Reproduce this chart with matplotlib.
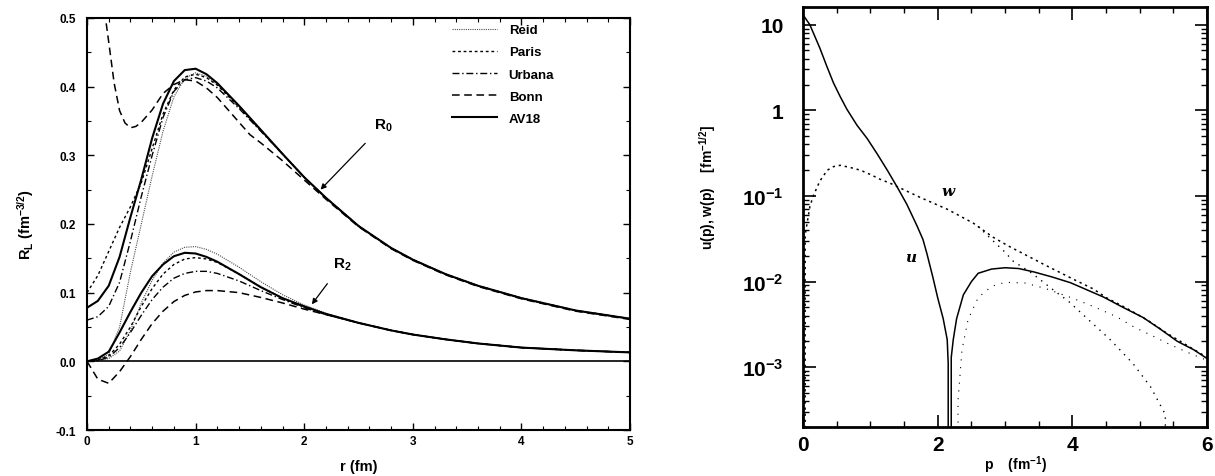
import numpy as np
import matplotlib
matplotlib.use('Agg')
import matplotlib.pyplot as plt
from matplotlib.ticker import MultipleLocator, FixedLocator, FixedFormatter, LogLocator, NullFormatter

plt.rcParams['font.family'] = ['Liberation Sans', 'DejaVu Sans']
plt.rcParams['font.weight'] = 'bold'
plt.rcParams['mathtext.fontset'] = 'custom'
plt.rcParams['mathtext.rm'] = 'Liberation Sans:bold'
plt.rcParams['mathtext.it'] = 'Liberation Sans:italic:bold'
plt.rcParams['mathtext.default'] = 'rm'

# ---- left panel: R_0 and R_2 vs r (fm) ----
r = [0, 0.1, 0.2, 0.3, 0.4, 0.5, 0.6, 0.7, 0.8, 0.9, 1.0, 1.1, 1.2, 1.4, 1.6,
     1.8, 2.0, 2.2, 2.5, 2.8, 3.0, 3.3, 3.6, 4.0, 4.5, 5.0]
tail0 = [0.302, 0.268, 0.238, 0.197, 0.165, 0.148, 0.127, 0.110, 0.092, 0.074, 0.062]
R0_av18 = [0.078, 0.088, 0.110, 0.152, 0.210, 0.265, 0.325, 0.375, 0.408, 0.424, 0.426,
           0.418, 0.405, 0.372, 0.337] + tail0
R0_reid = [0.0, 0.002, 0.010, 0.050, 0.130, 0.200, 0.270, 0.335, 0.385, 0.412, 0.420,
           0.415, 0.403, 0.372, 0.338] + tail0
R0_paris = [0.100, 0.125, 0.160, 0.195, 0.225, 0.260, 0.310, 0.360, 0.395, 0.414, 0.418,
            0.413, 0.402, 0.370, 0.336] + tail0
R0_urbana = [0.060, 0.065, 0.080, 0.115, 0.175, 0.240, 0.300, 0.355, 0.393, 0.410, 0.413,
             0.408, 0.398, 0.368, 0.335] + tail0
r_bonn = [0.15, 0.17, 0.2, 0.25, 0.3, 0.35, 0.4, 0.45, 0.5, 0.6, 0.7, 0.8, 0.9, 1.0, 1.1,
          1.2, 1.3, 1.4, 1.5, 1.6, 1.8, 2.0, 2.2, 2.5, 2.8, 3.0, 3.3, 3.6, 4.0, 4.5, 5.0]
R0_bonn = [0.54, 0.50, 0.465, 0.405, 0.365, 0.347, 0.340, 0.342, 0.348, 0.366, 0.390,
           0.403, 0.410, 0.408, 0.398, 0.384, 0.366, 0.348, 0.330, 0.318, 0.292, 0.264,
           0.236, 0.196, 0.164, 0.147, 0.126, 0.109, 0.091, 0.073, 0.061]

tail2 = [0.056, 0.045, 0.039, 0.032, 0.026, 0.020, 0.016, 0.013]
R2_av18 = [0, 0.004, 0.014, 0.042, 0.072, 0.100, 0.124, 0.141, 0.153, 0.158, 0.157,
           0.152, 0.145, 0.127, 0.108, 0.092, 0.080, 0.069] + tail2
R2_reid = [0, 0.001, 0.004, 0.015, 0.045, 0.085, 0.118, 0.143, 0.159, 0.166, 0.167,
           0.163, 0.156, 0.137, 0.116, 0.097, 0.082, 0.070] + tail2
R2_paris = [0, 0.002, 0.008, 0.025, 0.050, 0.080, 0.106, 0.127, 0.141, 0.149, 0.151,
            0.149, 0.144, 0.127, 0.108, 0.092, 0.079, 0.069] + tail2
R2_urbana = [0, 0.001, 0.006, 0.020, 0.042, 0.067, 0.090, 0.108, 0.121, 0.128, 0.131,
             0.131, 0.128, 0.117, 0.103, 0.090, 0.078, 0.068] + tail2
R2_bonn = [0, -0.026, -0.032, -0.015, 0.007, 0.032, 0.055, 0.073, 0.087, 0.096, 0.101,
           0.103, 0.103, 0.100, 0.093, 0.085, 0.076, 0.068] + tail2

# ---- right panel: u(p), w(p) ----
p_u = [0, 0.1, 0.25, 0.35, 0.45, 0.55, 0.65, 0.8, 0.95, 1.1, 1.25, 1.4, 1.54, 1.69, 1.78,
       1.84, 1.93, 2.0, 2.08, 2.14, 2.155, 2.16, 2.2, 2.23, 2.28, 2.38, 2.5, 2.6, 2.8,
       3.0, 3.2, 3.42, 3.7, 3.97, 4.2, 4.46, 4.75, 5.05, 5.3, 5.56, 5.8, 6.0]
u_p = [13, 10, 5.3, 3.3, 2.1, 1.45, 1.03, 0.67, 0.47, 0.31, 0.20, 0.126, 0.08, 0.045,
       0.031, 0.021, 0.011, 6.4e-3, 3.7e-3, 2.1e-3, 1.1e-3, 0.0, 1.3e-3, 2.1e-3, 3.7e-3,
       7e-3, 1.0e-2, 1.25e-2, 1.4e-2, 1.45e-2, 1.42e-2, 1.3e-2, 1.13e-2, 9.7e-3, 8.1e-3,
       6.6e-3, 5e-3, 3.8e-3, 2.8e-3, 2.0e-3, 1.6e-3, 1.26e-3]
p_w = [0, 0.03, 0.1, 0.15, 0.25, 0.36, 0.45, 0.55, 0.7, 0.85, 1.0, 1.14, 1.3, 1.44, 1.74,
       2.14, 2.53, 2.82, 3.05, 3.33, 3.6, 3.82, 4.05, 4.31, 4.5, 4.8, 5.1, 5.4, 5.7, 6.0]
w_p = [0.0, 0.035, 0.075, 0.10, 0.15, 0.20, 0.22, 0.228, 0.215, 0.20, 0.178, 0.157, 0.14,
       0.124, 0.096, 0.07, 0.048, 0.033, 0.026, 0.02, 0.0155, 0.0127, 0.0103, 8.2e-3,
       6.5e-3, 4.9e-3, 3.6e-3, 2.5e-3, 1.8e-3, 1.3e-3]
p_w2 = [2.6, 2.8, 3.0, 3.12, 3.4, 3.67, 3.95, 4.22, 4.56, 4.9, 5.16, 5.38, 5.45]
w2_p = [0.044, 0.031, 0.022, 0.0173, 0.0125, 8.5e-3, 5.8e-3, 3.7e-3, 2.1e-3, 1.1e-3,
        5.9e-4, 2.8e-4, 0.0]
p_u2 = [2.27, 2.3, 2.36, 2.45, 2.6, 2.8, 3.0, 3.3, 3.6, 4.0, 4.34, 4.65, 4.93, 5.2, 5.41,
        5.7, 6.0]
u2_p = [0.0, 4e-4, 1.6e-3, 3.6e-3, 6.5e-3, 8.8e-3, 9.8e-3, 9.6e-3, 8.3e-3, 6.4e-3, 5e-3,
        3.9e-3, 2.9e-3, 2.3e-3, 1.9e-3, 1.5e-3, 1.2e-3]

labels = ['Reid', 'Paris', 'Urbana', 'Bonn', 'AV18']
styles = [dict(ls=(0, (1, 1)), lw=0.8, color='0.3'),
          dict(ls=(0, (2, 2)), lw=1.0, color='k'),
          dict(ls=(0, (5, 2, 1, 2)), lw=1.0, color='k'),
          dict(ls=(0, (5, 3)), lw=1.1, color='k'),
          dict(ls='-', lw=1.5, color='k')]

fig = plt.figure(figsize=(12.15, 4.77), dpi=100)

ax = fig.add_axes([0.0716, 0.0964, 0.447, 0.864])
R0s = [(r, R0_reid), (r, R0_paris), (r, R0_urbana), (r_bonn, R0_bonn), (r, R0_av18)]
R2s = [R2_reid, R2_paris, R2_urbana, R2_bonn, R2_av18]
for (rr, y0), y2, lab, st in zip(R0s, R2s, labels, styles):
    ax.plot(rr, y0, label=lab, **st)
    ax.plot(r, y2, **st)
ax.axhline(0, color='k', lw=1.2)
ax.set_xlim(0, 5)
ax.set_ylim(-0.1, 0.5)
ax.xaxis.set_major_locator(MultipleLocator(1))
ax.xaxis.set_minor_locator(MultipleLocator(0.2))
ax.yaxis.set_major_locator(FixedLocator([-0.1, 0, 0.1, 0.2, 0.3, 0.4, 0.5]))
ax.yaxis.set_major_formatter(FixedFormatter(['-0.1', '0.0', '0.1', '0.2', '0.3', '0.4', '0.5']))
ax.yaxis.set_minor_locator(MultipleLocator(0.05))
ax.tick_params(which='both', direction='in', top=True, right=True, labelsize=8.5)
ax.tick_params(which='major', length=5, width=1)
ax.tick_params(which='minor', length=3, width=0.8)
ax.tick_params(axis='y', pad=8)
for s in ax.spines.values():
    s.set_linewidth(1.5)
ax.set_xlabel('r (fm)', fontsize=10.5, fontweight='bold', labelpad=9)
ax.set_ylabel('R$_L$ (fm$^{-3/2}$)', fontsize=10.5, fontweight='bold', labelpad=14)
leg = ax.legend(loc='upper left', bbox_to_anchor=(0.672, 0.985), frameon=False,
                fontsize=9.5, handlelength=3.4, handletextpad=0.9, labelspacing=0.75,
                borderpad=0, borderaxespad=0)
ax.annotate('R$_0$', xy=(2.15, 0.25), xytext=(2.73, 0.345), fontsize=11,
            ha='center', va='center',
            arrowprops=dict(arrowstyle='-|>', color='k', lw=0.9, shrinkA=8, shrinkB=0,
                            mutation_scale=8))
ax.annotate('R$_2$', xy=(2.07, 0.083), xytext=(2.35, 0.142), fontsize=11,
            ha='center', va='center',
            arrowprops=dict(arrowstyle='-|>', color='k', lw=0.9, shrinkA=8, shrinkB=0,
                            mutation_scale=8))

# ---- right panel ----
ax2 = fig.add_axes([0.661, 0.1027, 0.3325, 0.880])
ax2.plot(p_u, u_p, color='k', lw=1.1)
ax2.plot(p_w, w_p, color='k', lw=1.1, ls=(0, (1.5, 2.5)))
ax2.plot(p_w2, w2_p, color='k', lw=1.0, ls=(0, (1, 4)))
ax2.plot(p_u2, u2_p, color='k', lw=0.8, ls=(0, (1, 6)))
ax2.set_yscale('log')
ax2.set_xlim(0, 6)
ax2.set_ylim(2e-4, 16)
ax2.xaxis.set_major_locator(MultipleLocator(2))
ax2.xaxis.set_minor_locator(MultipleLocator(0.5))
ax2.yaxis.set_major_locator(FixedLocator([1e-3, 1e-2, 1e-1, 1, 10]))
ax2.yaxis.set_major_formatter(FixedFormatter(['10$^{-3}$', '10$^{-2}$', '10$^{-1}$', '1', '10']))
ax2.yaxis.set_minor_locator(LogLocator(base=10, subs=np.arange(2, 10)))
ax2.yaxis.set_minor_formatter(NullFormatter())
ax2.tick_params(which='both', direction='in', top=True, right=True, labelsize=15)
ax2.tick_params(which='major', length=9, width=1.2)
ax2.tick_params(which='minor', length=4, width=1)
ax2.tick_params(axis='y', pad=14)
ax2.tick_params(axis='x', pad=6)
for s in ax2.spines.values():
    s.set_linewidth(2)
ax2.set_xlabel('p    (fm$^{-1}$)', fontsize=10, fontweight='bold')
ax2.xaxis.set_label_coords(0.525, -0.062)
ax2.set_ylabel('u(p), w(p)    [fm$^{-1/2}$]', fontsize=10, fontweight='bold')
ax2.yaxis.set_label_coords(-0.21, 0.574)
ax2.text(2.15, 0.115, 'w', fontsize=11, style='italic', family='DejaVu Serif', ha='center', va='center')
ax2.text(1.6, 0.0195, 'u', fontsize=11, style='italic', family='DejaVu Serif', ha='center', va='center')

fig.savefig('out.png', dpi=100)
